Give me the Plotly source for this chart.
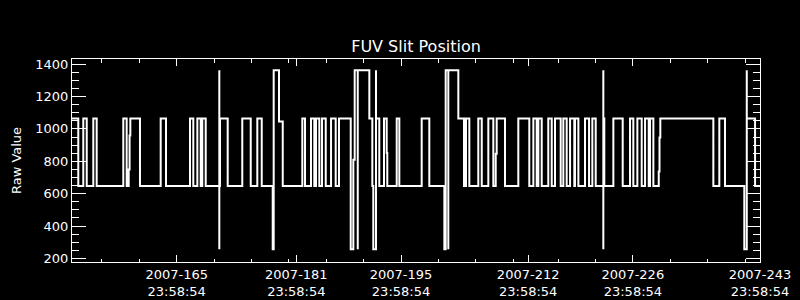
import datetime as dt
import plotly.graph_objects as go

# ---- data (day-of-year 2007, fractional) ----
LOW, HIGH, TOP, BOT = 648, 1065, 1362, 256
step_doy = [
    152.00, 152.84, 153.51, 153.97, 154.85, 155.30, 158.86, 159.31, 159.58, 159.70,
    159.80, 161.09, 163.86, 164.57, 167.78, 168.22, 168.76, 169.21, 169.42, 169.88,
    171.70, 171.70, 171.70, 171.79, 172.82, 174.77, 175.90, 176.78, 177.37, 178.84,
    178.97, 179.68, 180.18, 182.80, 183.16, 183.96, 184.40, 184.63, 185.07, 185.43,
    185.93, 186.64, 187.26, 187.70, 189.27, 189.62, 189.80, 190.21, 190.21, 191.76,
    192.16, 192.29, 192.65, 192.65, 193.09, 193.72, 194.08, 194.16, 195.42, 195.77,
    198.76, 199.78, 201.79, 201.97, 202.32, 202.32, 203.66, 204.42, 204.69, 205.13,
    206.33, 206.79, 207.67, 208.34, 208.66, 208.79, 209.90, 211.68, 213.15, 213.69,
    214.14, 214.36, 214.81, 215.69, 216.15, 216.59, 217.35, 217.70, 218.15, 218.60,
    219.17, 219.26, 219.71, 220.60, 221.14, 221.58, 222.03, 223.05, 223.05, 223.05,
    223.18, 224.39, 225.64, 226.62, 227.06, 227.60, 228.18, 228.63, 229.12, 229.29,
    229.74, 230.46, 230.56, 230.67, 237.76, 238.56, 239.32, 241.90, 242.23, 242.23,
    243.34, 244.00,
]
step_value = [
    HIGH, LOW, HIGH, LOW, HIGH, LOW, HIGH, LOW, 750, 960,
    HIGH, LOW, HIGH, LOW, HIGH, LOW, HIGH, LOW, HIGH, LOW,
    TOP, BOT, LOW, HIGH, LOW, HIGH, LOW, HIGH, LOW, BOT,
    TOP, 1046, LOW, HIGH, LOW, HIGH, LOW, HIGH, LOW, HIGH,
    LOW, HIGH, LOW, HIGH, BOT, 809, TOP, BOT, TOP, HIGH,
    LOW, BOT, TOP, HIGH, LOW, HIGH, 851, LOW, HIGH, LOW,
    HIGH, LOW, BOT, TOP, BOT, TOP, HIGH, LOW, HIGH, LOW,
    HIGH, LOW, HIGH, LOW, 846, HIGH, LOW, HIGH, LOW, HIGH,
    LOW, HIGH, LOW, HIGH, LOW, HIGH, LOW, HIGH, LOW, HIGH,
    LOW, HIGH, LOW, HIGH, LOW, HIGH, LOW, TOP, BOT, HIGH,
    LOW, HIGH, LOW, HIGH, LOW, HIGH, LOW, HIGH, LOW, HIGH,
    LOW, 737, 947, HIGH, LOW, HIGH, LOW, BOT, TOP, HIGH,
    LOW, LOW,
]

tick_doy = [165, 181, 195, 212, 226, 243]
tick_labels = ["2007-165", "2007-181", "2007-195", "2007-212", "2007-226", "2007-243"]
tick_time = "23:58:54"
y_ticks = [200, 400, 600, 800, 1000, 1200, 1400]
minor_months = [6, 7, 8]
minor_days = [5, 10, 15, 20, 25, 30]

TITLE = "FUV Slit Position"
YTITLE = "Raw Value"

# ---- helpers ----
base = dt.datetime(2007, 1, 1)


def doy_to_dt(d):
    return base + dt.timedelta(days=d - 1)


x = [doy_to_dt(d) for d in step_doy]
tick_vals = [base + dt.timedelta(days=d - 1, hours=23, minutes=58, seconds=54) for d in tick_doy]
tick_text = [f"{lab}<br>{tick_time}" for lab in tick_labels]
minor_vals = [dt.datetime(2007, m, d) for m in minor_months for d in minor_days]

x_start = dt.datetime(2007, 6, 1)
x_end = tick_vals[-1]

fig = go.Figure()
fig.add_trace(go.Scatter(
    x=x, y=step_value, mode="lines", line=dict(color="white", width=2, shape="hv"),
    showlegend=False, hoverinfo="skip",
))

font = dict(family="DejaVu Sans", size=13, color="white")

fig.update_layout(
    width=800, height=300,
    margin=dict(l=72, r=40, t=59, b=38),
    paper_bgcolor="black", plot_bgcolor="black",
    font=font,
    title=dict(text=TITLE, x=0.52, xanchor="center", y=1 - 46 / 300, yanchor="middle",
               yref="container", font=dict(family="DejaVu Sans", size=16, color="white")),
    xaxis=dict(
        type="date", range=[x_start, x_end], automargin=False,
        tickmode="array", tickvals=tick_vals, ticktext=tick_text,
        ticks="inside", ticklen=7, tickwidth=1, tickcolor="white",
        showline=True, linecolor="white", linewidth=1, mirror="ticks",
        showgrid=False, zeroline=False,
        minor=dict(tickmode="array", tickvals=minor_vals, ticks="inside", ticklen=3.5,
                   tickcolor="white", tickwidth=1, showgrid=False),
        tickfont=font,
    ),
    yaxis=dict(
        range=[178, 1432], automargin=False,
        tickmode="array", tickvals=y_ticks,
        ticks="inside", ticklen=14, tickwidth=1, tickcolor="white",
        showline=True, linecolor="white", linewidth=1, mirror="ticks",
        showgrid=False, zeroline=False,
        minor=dict(dtick=50, tick0=0, ticks="inside", ticklen=7, tickcolor="white",
                   tickwidth=1, showgrid=False),
        title=dict(text=YTITLE, font=font, standoff=10),
        tickfont=font,
    ),
)

fig.write_html("out.html")
